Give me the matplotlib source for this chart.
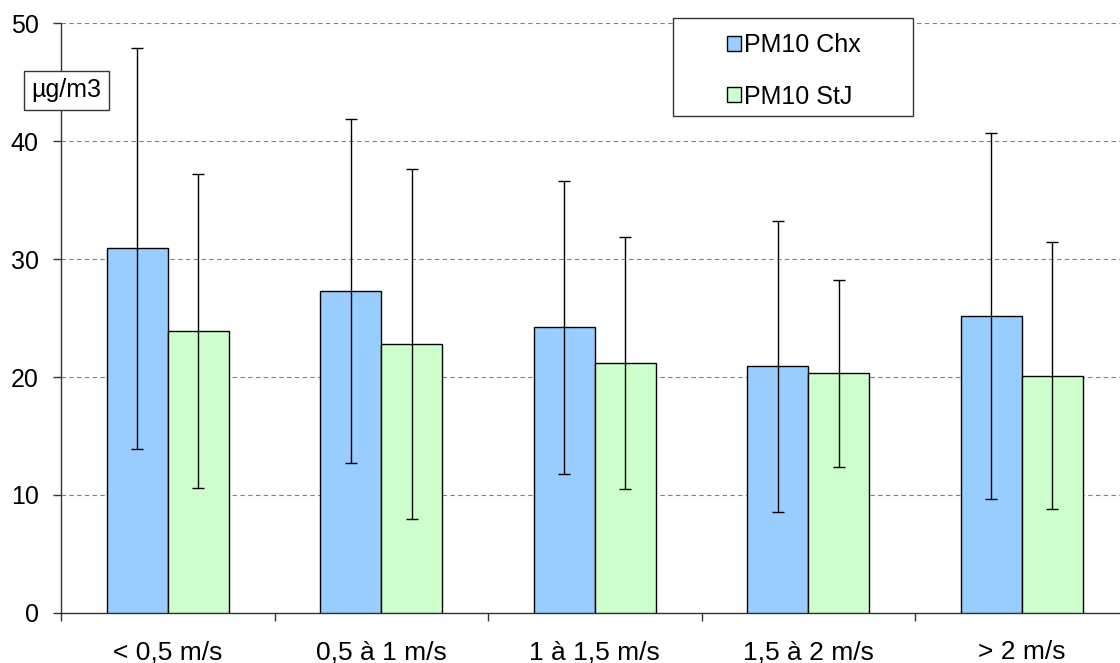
import numpy as np
import matplotlib.pyplot as plt
from matplotlib.patches import Rectangle

plt.rcParams['font.family'] = ['Liberation Sans', 'DejaVu Sans']

categories = ['< 0,5 m/s', '0,5 à 1 m/s', '1 à 1,5 m/s', '1,5 à 2 m/s', '> 2 m/s']
chx_mean = [30.9, 27.3, 24.2, 20.9, 25.2]
chx_std = [17.0, 14.6, 12.4, 12.3, 15.5]
stj_mean = [23.9, 22.8, 21.2, 20.3, 20.1]
stj_std = [13.3, 14.8, 10.7, 7.9, 11.3]
yticks = [0, 10, 20, 30, 40, 50]

W, H = 1120, 663
fig = plt.figure(figsize=(W / 100, H / 100), dpi=100)
# axes spans beyond the right edge, like the original (clipped) chart
ax = fig.add_axes([61 / W, (H - 613) / H, 1067.5 / W, 590 / H])

x = np.arange(len(categories))
bw = 1 / 3.5
err_kw = dict(ecolor='black', elinewidth=1, capsize=4, capthick=1)
ax.bar(x + 0.5 - bw / 2, chx_mean, bw, yerr=chx_std, color='#99CCFF',
       edgecolor='black', linewidth=1, error_kw=err_kw, label='PM10 Chx', zorder=3)
ax.bar(x + 0.5 + bw / 2, stj_mean, bw, yerr=stj_std, color='#CCFFCC',
       edgecolor='black', linewidth=1, error_kw=err_kw, label='PM10 StJ', zorder=3)

ax.set_xlim(0, len(categories))
ax.set_ylim(0, 50)
ax.set_yticks(yticks)
ax.set_xticks(np.arange(len(categories) + 1))
ax.set_xticklabels([])
ax.set_xticks(x + 0.5, minor=True)
ax.set_xticklabels(categories, minor=True, fontsize=19)
ax.tick_params(axis='x', which='major', direction='out', length=6, width=1, color='#333333')
ax.tick_params(axis='x', which='minor', length=0, pad=19.5)
ax.tick_params(axis='y', direction='out', length=6, width=1, color='#333333', pad=10, labelsize=18)

for s in ['top', 'right']:
    ax.spines[s].set_visible(False)
for s in ['left', 'bottom']:
    ax.spines[s].set_color('#333333')
    ax.spines[s].set_linewidth(1)

ax.yaxis.grid(True, linestyle=(0, (4, 3)), color='#808080', linewidth=0.8, zorder=0)
ax.set_axisbelow(True)

fig.text(66.5 / W, 1 - 90.5 / H, 'µg/m3', fontsize=18, va='center', ha='center',
         bbox=dict(boxstyle='square,pad=0.3', facecolor='white', edgecolor='#333333', linewidth=1))

# legend box
fig.patches.append(Rectangle((673 / W, 1 - 116 / H), 240 / W, 98 / H,
                             transform=fig.transFigure, facecolor='white',
                             edgecolor='#333333', linewidth=1, zorder=5))
leg = fig.legend(loc='upper left', bbox_to_anchor=(727 / W, 1 - 33 / H), frameon=False,
                 fontsize=18, handlelength=0.56, handleheight=0.56, handletextpad=0.12,
                 labelspacing=1.1, borderpad=0, borderaxespad=0)
leg.set_zorder(6)

fig.savefig('out.png', dpi=100)
